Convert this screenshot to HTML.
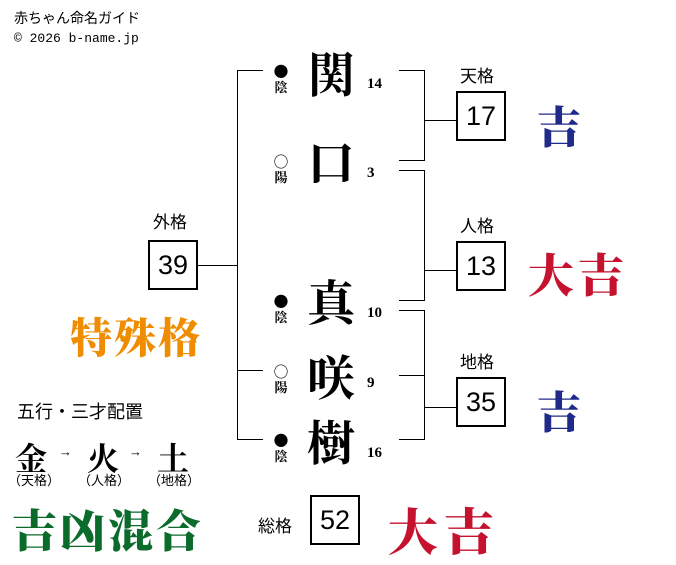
<!DOCTYPE html>
<html><head><meta charset="utf-8"><style>
body{margin:0;width:676px;height:562px;background:#fff;position:relative;overflow:hidden;font-family:"Liberation Sans","Noto Sans CJK JP",sans-serif;color:#000}
.a{position:absolute;white-space:nowrap}
.l{position:absolute;background:#000}
.box{position:absolute;width:46px;height:46px;border:2px solid #000;font-size:27px;line-height:46px;text-align:center;font-family:"Liberation Sans","Noto Sans CJK JP",sans-serif}
.k{position:absolute;font-family:"Noto Serif CJK SC","Noto Sans CJK JP",serif;font-weight:bold;font-size:48px;line-height:48px;width:56px;text-align:center}
.n{position:absolute;font-family:"Liberation Serif",serif;font-weight:bold;font-size:15px}
.yy{position:absolute;width:20px;text-align:center;font-size:13px;line-height:15px;font-family:"Noto Serif CJK SC",serif;font-weight:bold}
.yy span{font-size:15px}
.lab{position:absolute;font-size:17px}
.f{position:absolute;font-family:"Noto Serif CJK SC","Noto Sans CJK JP",serif;font-weight:900;white-space:nowrap}
</style></head><body>
<div class="a" style="left:14px;top:8px;font-size:14px">赤ちゃん命名ガイド</div>
<div class="a" style="left:14px;top:31px;font-size:13px;font-family:'Liberation Mono',monospace">© 2026 b-name.jp</div>

<div class="l" style="left:237px;top:70px;width:1px;height:370px"></div>
<div class="l" style="left:237px;top:70px;width:26px;height:1px"></div>
<div class="l" style="left:237px;top:370px;width:26px;height:1px"></div>
<div class="l" style="left:237px;top:439px;width:26px;height:1px"></div>
<div class="l" style="left:198px;top:265px;width:39px;height:1px"></div>

<div class="l" style="left:399px;top:70px;width:26px;height:1px"></div>
<div class="l" style="left:399px;top:160px;width:26px;height:1px"></div>
<div class="l" style="left:424px;top:70px;width:1px;height:91px"></div>
<div class="l" style="left:424px;top:120px;width:33px;height:1px"></div>

<div class="l" style="left:399px;top:170px;width:26px;height:1px"></div>
<div class="l" style="left:399px;top:300px;width:26px;height:1px"></div>
<div class="l" style="left:424px;top:170px;width:1px;height:131px"></div>
<div class="l" style="left:424px;top:270px;width:33px;height:1px"></div>

<div class="l" style="left:399px;top:310px;width:26px;height:1px"></div>
<div class="l" style="left:399px;top:375px;width:26px;height:1px"></div>
<div class="l" style="left:399px;top:439px;width:26px;height:1px"></div>
<div class="l" style="left:424px;top:310px;width:1px;height:130px"></div>
<div class="l" style="left:424px;top:407px;width:33px;height:1px"></div>

<div class="k" style="left:303px;top:48px">関</div>
<div class="k" style="left:303px;top:136px">口</div>
<div class="k" style="left:303px;top:276px">真</div>
<div class="k" style="left:303px;top:351px">咲</div>
<div class="k" style="left:303px;top:416px">樹</div>
<div class="n" style="left:367px;top:76px">14</div>
<div class="n" style="left:367px;top:165px">3</div>
<div class="n" style="left:367px;top:305px">10</div>
<div class="n" style="left:367px;top:375px">9</div>
<div class="n" style="left:367px;top:445px">16</div>

<div class="yy" style="left:271px;top:64px"><span>●</span><br>陰</div>
<div class="yy" style="left:271px;top:154px"><span>○</span><br>陽</div>
<div class="yy" style="left:271px;top:294px"><span>●</span><br>陰</div>
<div class="yy" style="left:271px;top:364px"><span>○</span><br>陽</div>
<div class="yy" style="left:271px;top:433px"><span>●</span><br>陰</div>

<div class="lab" style="left:460px;top:62px">天格</div>
<div class="box" style="left:456px;top:91px">17</div>
<div class="lab" style="left:460px;top:212px">人格</div>
<div class="box" style="left:456px;top:241px">13</div>
<div class="lab" style="left:460px;top:348px">地格</div>
<div class="box" style="left:456px;top:377px">35</div>
<div class="lab" style="left:153px;top:208px">外格</div>
<div class="box" style="left:148px;top:240px">39</div>
<div class="lab" style="left:258px;top:512px">総格</div>
<div class="box" style="left:310px;top:495px">52</div>

<div class="f" style="left:537px;top:92px;font-size:44px;color:#1f2a8a">吉</div>
<div class="f" style="left:528px;top:240px;font-size:46px;color:#c4122f;letter-spacing:4px">大吉</div>
<div class="f" style="left:537px;top:377px;font-size:44px;color:#1f2a8a">吉</div>
<div class="f" style="left:388px;top:493px;font-size:50px;color:#c4122f;letter-spacing:6px">大吉</div>
<div class="f" style="left:70px;top:306px;font-size:42px;color:#f08c00;letter-spacing:2px">特殊格</div>

<div class="lab" style="left:17px;top:398px;font-size:18px">五行・三才配置</div>
<div class="f" style="left:15px;top:434px;font-size:32px;font-weight:bold">金</div>
<div class="f" style="left:87px;top:434px;font-size:32px;font-weight:bold">火</div>
<div class="f" style="left:157px;top:434px;font-size:32px;font-weight:bold">土</div>
<div class="a" style="left:59px;top:444px;font-size:13px">→</div>
<div class="a" style="left:129px;top:444px;font-size:13px">→</div>
<div class="a" style="left:8px;top:470px;font-size:13px">（天格）</div>
<div class="a" style="left:78px;top:470px;font-size:13px">（人格）</div>
<div class="a" style="left:148px;top:470px;font-size:13px">（地格）</div>
<div class="f" style="left:12px;top:495px;font-size:45px;color:#0b6b2b;letter-spacing:3px">吉凶混合</div>
</body></html>
